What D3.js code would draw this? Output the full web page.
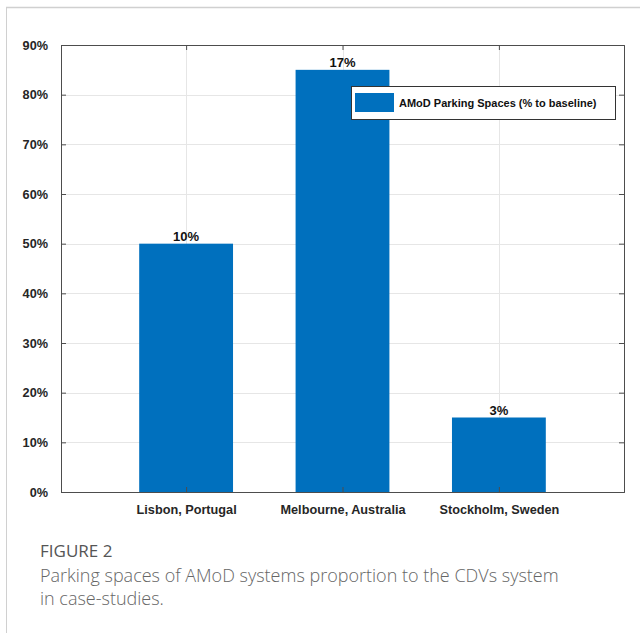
<!DOCTYPE html>
<html>
<head>
<meta charset="utf-8">
<script src="https://cdn.jsdelivr.net/npm/d3@7"></script>
<style>
  body { margin: 0; background: #fff; }
  svg { display: block; }
</style>
</head>
<body>
<div id="chart"></div>
<script>
// data
var cities = ["Lisbon, Portugal", "Melbourne, Australia", "Stockholm, Sweden"];
var parkingShare = [50, 85, 15];          // bar height, % of axis
var barLabels = ["10%", "17%", "3%"];     // text printed above bars
var yTicks = [0, 10, 20, 30, 40, 50, 60, 70, 80, 90];
var legendText = "AMoD Parking Spaces (% to baseline)";
var captionTitle = "FIGURE 2";
var captionLines = ["Parking spaces of AMoD systems proportion to the CDVs system",
                    "in case-studies."];

var width = 640, height = 633;
var plotLeft = 61, plotRight = 624, plotTop = 45, plotBottom = 492;
var barColor = "#0070be";
var font = "'Liberation Sans', Arial, sans-serif";

var svg = d3.select("#chart")
    .append("svg")
    .attr("width", width)
    .attr("height", height);

// page frame lines
svg.append("line").attr("x1", 6).attr("x2", width).attr("y1", 7.5).attr("y2", 7.5)
    .attr("stroke", "#d0d0d0").attr("stroke-width", 1.5);
svg.append("line").attr("x1", 6.5).attr("x2", 6.5).attr("y1", 7).attr("y2", height)
    .attr("stroke", "#d0d0d0").attr("stroke-width", 1);

var xScale = d3.scaleLinear()
    .domain([0.2, 3.8])
    .range([plotLeft, plotRight]);

var yScale = d3.scaleLinear()
    .domain([0, 90])
    .range([plotBottom, plotTop]);

var barW = xScale(0.6) - xScale(0);

// grid
svg.append("g")
    .selectAll("line")
    .data(yTicks.slice(1, -1))
    .enter()
    .append("line")
    .attr("x1", plotLeft).attr("x2", plotRight)
    .attr("y1", d => Math.round(yScale(d)) + 0.5)
    .attr("y2", d => Math.round(yScale(d)) + 0.5)
    .attr("stroke", "#e6e6e6");

svg.append("g")
    .selectAll("line")
    .data(cities)
    .enter()
    .append("line")
    .attr("x1", (d, i) => Math.round(xScale(i + 1)) + 0.5)
    .attr("x2", (d, i) => Math.round(xScale(i + 1)) + 0.5)
    .attr("y1", plotTop).attr("y2", plotBottom)
    .attr("stroke", "#e6e6e6");

// bars
svg.append("g")
    .selectAll("rect")
    .data(parkingShare)
    .enter()
    .append("rect")
    .attr("x", (d, i) => xScale(i + 1) - barW / 2)
    .attr("width", barW)
    .attr("y", d => yScale(d))
    .attr("height", d => yScale(0) - yScale(d))
    .attr("fill", barColor);

// labels above bars
svg.append("g")
    .selectAll("text")
    .data(barLabels)
    .enter()
    .append("text")
    .attr("x", (d, i) => xScale(i + 1))
    .attr("y", (d, i) => yScale(parkingShare[i]) - 3)
    .attr("text-anchor", "middle")
    .style("font-family", font)
    .style("font-weight", "bold")
    .style("font-size", "13px")
    .attr("fill", "#111")
    .text(d => d);

// axes, MATLAB-like inward ticks
var axisY = d3.axisLeft(yScale)
    .tickValues(yTicks)
    .tickSize(-5)
    .tickPadding(13)
    .tickFormat(d => d + "%");

var axisYRight = d3.axisRight(yScale)
    .tickValues(yTicks)
    .tickSize(-5)
    .tickFormat("");

var axisX = d3.axisBottom(xScale)
    .tickValues([1, 2, 3])
    .tickSize(-5)
    .tickPadding(13)
    .tickFormat(d => cities[d - 1]);

var axisXTop = d3.axisTop(xScale)
    .tickValues([1, 2, 3])
    .tickSize(-5)
    .tickFormat("");

function styleAxis(g) {
    g.select(".domain").attr("stroke", "#4d4d4d");
    g.selectAll(".tick line").attr("stroke", "#4d4d4d");
    g.selectAll("text")
        .style("font-family", font)
        .style("font-weight", "bold")
        .style("font-size", "12.7px")
        .attr("fill", "#262626");
}

svg.append("g").attr("transform", "translate(" + plotLeft + ",0)").call(axisY).call(styleAxis);
svg.append("g").attr("transform", "translate(" + plotRight + ",0)").call(axisYRight).call(styleAxis);
svg.append("g").attr("transform", "translate(0," + plotBottom + ")").call(axisX).call(styleAxis);
svg.append("g").attr("transform", "translate(0," + plotTop + ")").call(axisXTop).call(styleAxis);

// legend
var legend = svg.append("g").attr("transform", "translate(351,86)");
legend.append("rect")
    .attr("x", 0.5).attr("y", 0.5)
    .attr("width", 264).attr("height", 33)
    .attr("fill", "#fff")
    .attr("stroke", "#333");
legend.append("rect")
    .attr("x", 4).attr("y", 7)
    .attr("width", 39).attr("height", 19)
    .attr("fill", barColor);
legend.append("text")
    .attr("x", 48).attr("y", 21)
    .style("font-family", font)
    .style("font-weight", "bold")
    .style("font-size", "11px")
    .attr("fill", "#111")
    .text(legendText);

// caption
svg.append("text")
    .attr("x", 40).attr("y", 557)
    .style("font-family", "'Open Sans', Lato, sans-serif")
    .style("font-weight", "500")
    .style("font-size", "17px")
    .attr("fill", "#555")
    .text(captionTitle);

svg.append("g")
    .selectAll("text")
    .data(captionLines)
    .enter()
    .append("text")
    .attr("x", 40)
    .attr("y", (d, i) => 582 + i * 23)
    .style("font-family", "'Open Sans', Lato, sans-serif")
    .style("font-weight", "300")
    .style("font-size", "18px")
    .attr("fill", "#666")
    .text(d => d);
</script>
</body>
</html>
